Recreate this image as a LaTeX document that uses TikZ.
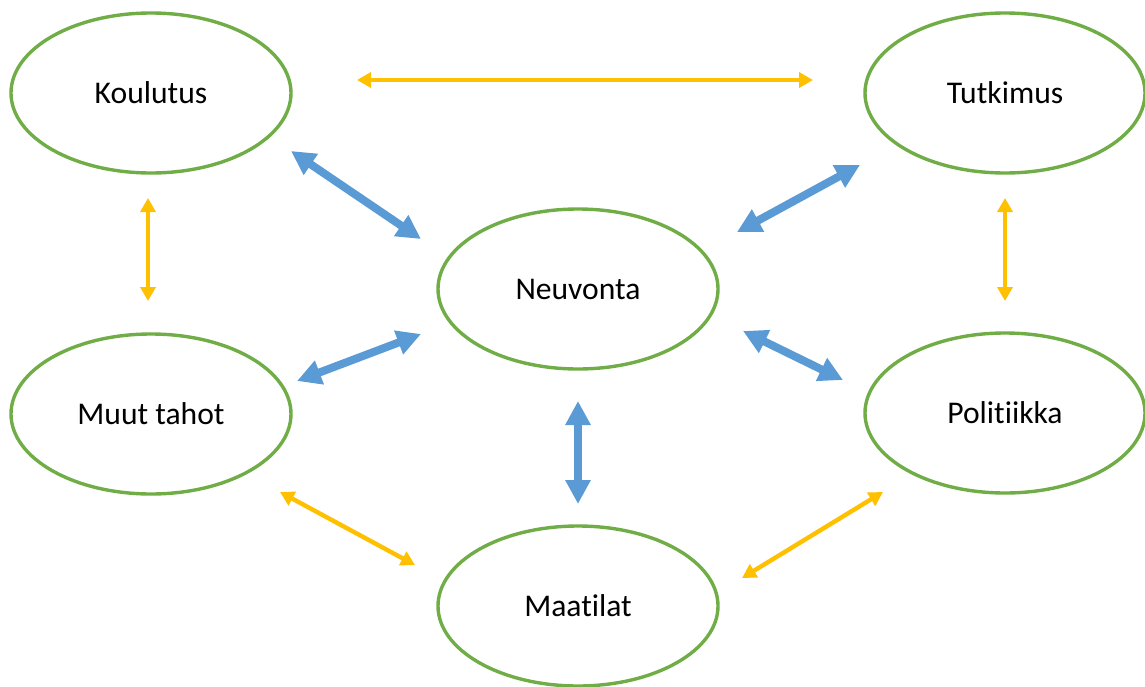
\documentclass[tikz,border=0pt]{standalone}
\usepackage{fontspec}
\setmainfont{Carlito}[Ligatures=NoCommon]
\usetikzlibrary{arrows.meta,shapes.geometric}
\definecolor{ringgreen}{RGB}{112,173,71}
\definecolor{linkblue}{RGB}{91,155,213}
\definecolor{linkorange}{RGB}{255,192,0}

\begin{document}
\begin{tikzpicture}[x=0.5pt,y=-0.5pt,
  actor/.style={ellipse,draw=ringgreen,line width=1.7pt,minimum width=140pt,minimum height=80pt,inner sep=0pt,font=\fontsize{15.8}{18}\selectfont},
  mainlink/.style={draw=linkblue,line width=4pt,{Triangle[length=12pt,width=12pt]}-{Triangle[length=12pt,width=12pt]}},
  sidelink/.style={draw=linkorange,line width=2.2pt,{Triangle[length=7pt,width=7.5pt]}-{Triangle[length=7pt,width=7.5pt]}}]

\useasboundingbox (0,0) rectangle (1145,686);

\node[actor]   (kou)  at (151,93)   {Koulutus};
\node[actor]   (tut)  at (1005,93)  {Tutkimus};
\node[actor]   (neu)  at (578,289)  {Neuvonta};
\node[actor]   (muu)  at (151,414)  {Muut tahot};
\node[actor]   (pol)  at (1005,413) {Politiikka};
\node[actor]   (maa)  at (578,606)  {Maatilat};

% arrow ends
\coordinate (kt1) at (357,80);   \coordinate (kt2) at (813,80);
\coordinate (km1) at (148,198);  \coordinate (km2) at (148,301);
\coordinate (tp1) at (1005,198); \coordinate (tp2) at (1005,301);
\coordinate (mm1) at (280,492);  \coordinate (mm2) at (415,565);
\coordinate (pm1) at (883,492);  \coordinate (pm2) at (742,578);

\coordinate (kn1) at (291,151);  \coordinate (kn2) at (421,239);
\coordinate (tn1) at (860,165);  \coordinate (tn2) at (737,232);
\coordinate (un1) at (297,381);  \coordinate (un2) at (421,334);
\coordinate (pn1) at (843,380);  \coordinate (pn2) at (743,331);
\coordinate (na1) at (578,401);  \coordinate (na2) at (578,504);

\path (kt1) edge[sidelink] (kt2)
      (km1) edge[sidelink] (km2)
      (tp1) edge[sidelink] (tp2)
      (mm1) edge[sidelink] (mm2)
      (pm1) edge[sidelink] (pm2);

\path (kn1) edge[mainlink] (kn2)
      (tn1) edge[mainlink] (tn2)
      (un1) edge[mainlink] (un2)
      (pn1) edge[mainlink] (pn2)
      (na1) edge[mainlink] (na2);

\end{tikzpicture}
\end{document}
